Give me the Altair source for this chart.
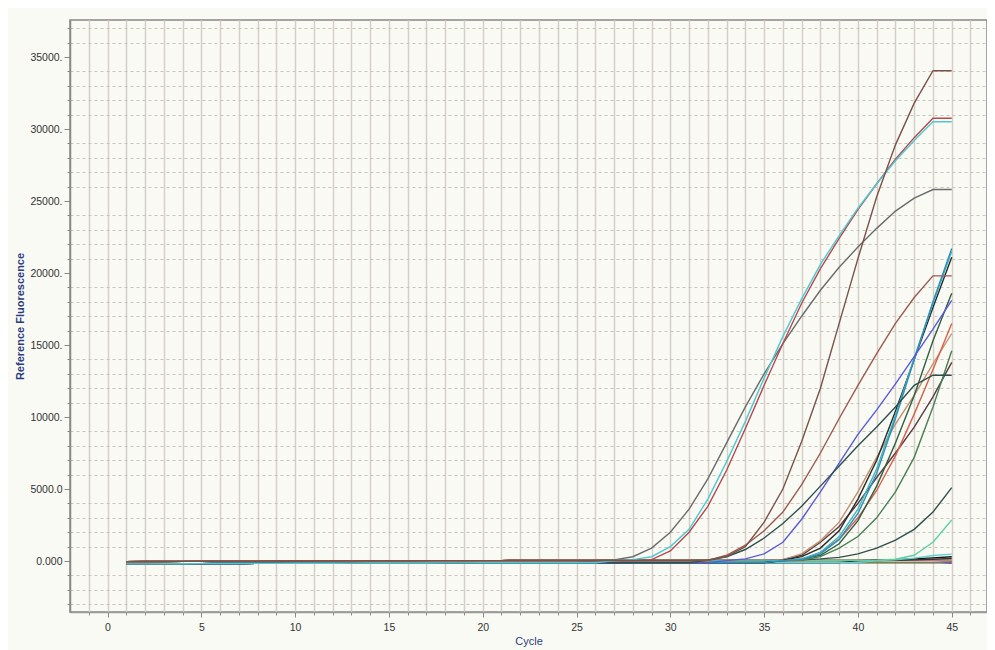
import altair as alt
import pandas as pd

cycles = list(range(1, 46))

# flat baseline readings (upper and lower edge of the baseline band), cycles 1..45
base_hi = [-40, -35, -30, -25, -20, -15, -10, -5, 0, 0, 5, 10, 10, 15, 20, 20, 25, 25, 30, 30,
           30, 35, 35, 35, 40, 40, 40, 40, 40, 40, 40, 40, 40, 40, 40, 40, 40, 40, 40, 40,
           40, 40, 40, 40, 40]
base_lo = [-200, -195, -190, -185, -180, -175, -170, -165, -160, -155, -150, -150, -145, -140, -140,
           -135, -135, -130, -130, -125, -125, -120, -120, -120, -115, -115, -115, -110, -110, -110,
           -110, -110, -110, -110, -110, -110, -110, -110, -110, -110, -110, -110, -110, -110, -110]

# series: name, colour, baseline used, first cycle of the rise, values from that cycle to 45
series_names = ["flat_purple", "flat_green", "flat_yellow", "flat_pink", "flat_blue", "flat_olive",
                "flat_black", "flat_dark", "light_cyan", "mint", "low_slate",
                "maroon", "green", "tan", "red_orange", "dark_green", "black", "light_teal", "teal",
                "blue", "slate", "brick", "gray", "red", "cyan", "brown"]
series_colors = ["#7b3fd0", "#2a8a3a", "#c8c830", "#d070a0", "#3050c0", "#7a8a30",
                 "#111111", "#333333", "#60d0d0", "#5fd0a0", "#2f4f4f",
                 "#5a3a40", "#4a7f55", "#c09070", "#d9604a", "#2f5f3f", "#2a2a2a", "#3fb8b8", "#2f8fbf",
                 "#5a5ad8", "#2f4f4f", "#9a5a50", "#6b6b6b", "#b5494f", "#4fc9cf", "#7a5248"]
series_base = ["lo", "hi", "hi", "hi", "lo", "lo",
               "lo", "hi", "lo", "hi", "lo",
               "hi", "lo", "hi", "hi", "lo", "lo", "hi", "lo",
               "lo", "lo", "hi", "lo", "hi", "lo", "hi"]
series_start = [45, 45, 45, 45, 45, 45,
                40, 42, 41, 41, 36,
                35, 36, 35, 36, 36, 36, 36, 36,
                33, 32, 32, 26, 28, 27, 32]
series_values = [
    [-150],
    [20],
    [50],
    [60],
    [-80],
    [-60],
    [30, 60, 100, 150, 220, 300],
    [50, 80, 120, 180],
    [30, 80, 200, 380, 480],
    [50, 120, 400, 1300, 2850],
    [30, 80, 150, 250, 500, 900, 1450, 2200, 3400, 5100],
    [30, 100, 400, 1300, 2400, 4000, 5800, 7500, 9300, 11400, 13800],
    [20, 50, 300, 900, 1700, 3000, 4800, 7200, 10700, 14600],
    [30, 100, 500, 1400, 2700, 4800, 7200, 9500, 11500, 13700, 15800],
    [30, 100, 600, 1500, 3000, 4900, 7300, 10200, 13300, 16500],
    [30, 150, 400, 1200, 2800, 5200, 8200, 11500, 15300, 18600],
    [50, 300, 900, 2100, 4300, 7000, 10400, 14000, 17600, 21100],
    [30, 150, 600, 1700, 3600, 6400, 10100, 14100, 17900, 21500],
    [30, 100, 500, 1500, 3300, 6100, 9900, 14000, 18000, 21700],
    [30, 150, 500, 1300, 2900, 4800, 6800, 8800, 10500, 12300, 14200, 16100, 18100],
    [50, 300, 800, 1600, 2600, 3800, 5200, 6600, 8000, 9300, 10700, 12200, 12900, 12900],
    [50, 400, 1100, 2100, 3400, 5300, 7500, 9900, 12200, 14400, 16500, 18300, 19800, 19800],
    [20, 80, 300, 900, 2000, 3600, 5700, 8200, 10700, 13000, 15100, 17000, 18800, 20400, 21800,
     23100, 24300, 25200, 25800, 25800],
    [30, 100, 700, 2000, 3800, 6300, 9200, 12200, 15100, 17900, 20300, 22400, 24400, 26200, 27900,
     29400, 30750, 30750],
    [20, 100, 300, 1000, 2200, 4300, 6900, 9700, 12700, 15600, 18200, 20600, 22600, 24500, 26200,
     27800, 29200, 30500, 30500],
    [80, 300, 1000, 2700, 5000, 8300, 12000, 16500, 21000, 25300, 28900, 31800, 34050, 34050],
]

rows = []
for i, name in enumerate(series_names):
    base = base_hi if series_base[i] == "hi" else base_lo
    start = series_start[i]
    vals = list(base[:start - 1]) + list(series_values[i])
    for c, v in zip(cycles, vals):
        rows.append({"series": name, "cycle": c, "value": v, "order": i})
df = pd.DataFrame(rows)

x_ticks = list(range(-1, 47))
y_ticks = list(range(-3000, 38000, 1000))

y_label_expr = ("datum.value == 0 ? '0.000' : datum.value == 5000 ? '5000.0' : "
                "(datum.value > 0 && datum.value % 5000 == 0) ? format(datum.value, 'd') + '.' : ''")

chart = alt.Chart(df).mark_line(strokeWidth=1.4, interpolate="linear").encode(
    x=alt.X("cycle:Q",
            scale=alt.Scale(domain=[-2, 46.88], nice=False, zero=False),
            axis=alt.Axis(values=x_ticks,
                          labelExpr="datum.value % 5 == 0 ? datum.label : ''",
                          tickSize={"condition": {"test": "datum.value % 5 == 0", "value": 5}, "value": 3},
                          tickColor="#888888",
                          domainColor="#9a9a9a", domainWidth=1.5,
                          grid=True, gridColor="#d4d0c8", gridWidth=1.5,
                          labelFont="Liberation Sans", labelFontSize=10.5, labelColor="#333333",
                          labelPadding=5, labelFlush=False,
                          title="Cycle", titleFont="Liberation Sans", titleFontSize=11,
                          titleFontWeight="normal", titleColor="#2a3a80", titlePadding=3)),
    y=alt.Y("value:Q",
            scale=alt.Scale(domain=[-3540, 37570], nice=False, zero=False),
            axis=alt.Axis(values=y_ticks,
                          labelExpr=y_label_expr,
                          tickSize={"condition": {"test": "datum.value % 5000 == 0", "value": 6}, "value": 3},
                          tickColor="#888888",
                          domainColor="#888888", domainWidth=1.5,
                          grid=True, gridColor="#c8c4bc", gridDash=[3, 3], gridWidth=1,
                          gridOpacity={"condition": {"test": "datum.value % 5000 == 0", "value": 0}, "value": 1},
                          labelFont="Liberation Sans", labelFontSize=10.5, labelColor="#333333",
                          labelPadding=2,
                          title="Reference Fluorescence", titleFont="Liberation Sans", titleFontSize=11,
                          titleFontWeight="bold", titleColor="#2a3a80", titlePadding=4)),
    color=alt.Color("series:N",
                    scale=alt.Scale(domain=series_names, range=series_colors),
                    legend=None),
    order=alt.Order("order:Q"),
    detail="series:N",
).properties(
    width=917,
    height=592,
    background="#fafaf5",
    padding={"left": 62, "top": 12, "right": 0, "bottom": 38},
    autosize=alt.AutoSizeParams(type="none"),
).configure_view(
    fill="#fafaf5",
    stroke="#888888",
    strokeWidth=1.5,
)

chart.save("out.html", embed_options={"renderer": "svg", "actions": False})
